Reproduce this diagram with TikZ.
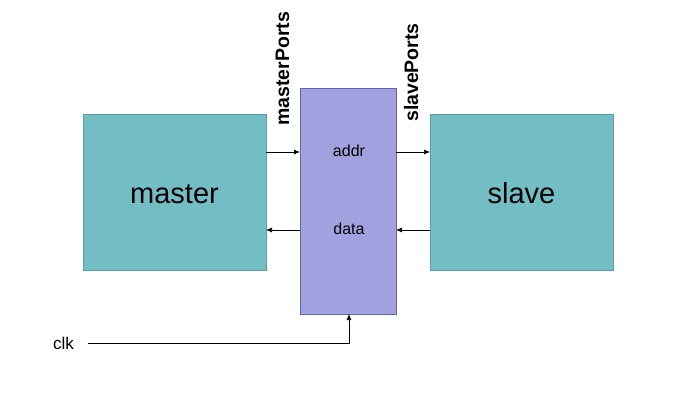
\documentclass[tikz,border=0pt]{standalone}
\usepackage{fontspec}
\setmainfont{Liberation Sans}
\usetikzlibrary{arrows.meta}
\definecolor{tealfill}{RGB}{114,190,196}
\definecolor{tealline}{RGB}{90,160,166}
\definecolor{busfill}{RGB}{161,161,224}
\definecolor{busline}{RGB}{100,100,170}
\begin{document}
\begin{tikzpicture}[x=1pt,y=-1pt,
  unit/.style={draw=tealline,fill=tealfill,line width=0.6pt,minimum width=183pt,minimum height=156pt,inner sep=0pt},
  unitlabel/.style={font=\fontsize{29}{33}\selectfont,anchor=base,inner sep=0pt},
  bus/.style={draw=busline,fill=busfill,line width=0.6pt,minimum width=96pt,minimum height=226pt,inner sep=0pt},
  sig/.style={-{Latex[length=6pt,width=5pt]},line width=0.7pt},
  small/.style={font=\fontsize{16}{18}\selectfont,inner sep=0pt,anchor=base},
  port/.style={font=\bfseries\fontsize{19.5}{22}\selectfont,rotate=90,anchor=base west,inner sep=0pt}]
\useasboundingbox (0,0) rectangle (679,404);
\node[unit] (master) at (174.5,192) {};
\node[unit] (slave) at (521.5,192) {};
\node[unitlabel] (masterl) at (174.5,203) {master};
\node[unitlabel] (slavel) at (521.5,203) {slave};
\node[bus] (bus) at (348,201) {};
\node[small] (addr) at (349,156) {addr};
\node[small] (data) at (349,234) {data};
\node[port] (mpl) at (289,126) {masterPorts};
\node[port] (spl) at (418,122) {slavePorts};
\node[small,anchor=base west,font=\fontsize{17}{19}\selectfont] (clk) at (53,349) {clk};
\coordinate (clkend) at (88,343);
\coordinate (mA) at (266,152);
\coordinate (bAl) at (300,152);
\coordinate (bAr) at (396,152);
\coordinate (sA) at (430,152);
\coordinate (mD) at (266,230);
\coordinate (bDl) at (300,230);
\coordinate (bDr) at (396,230);
\coordinate (sD) at (430,230);
\coordinate (bB) at (349,314);
\draw[sig] (mA) -- (bAl);
\draw[sig] (bAr) -- (sA);
\draw[sig] (bDl) -- (mD);
\draw[sig] (sD) -- (bDr);
\draw[sig] (clkend) -| (bB);
\end{tikzpicture}
\end{document}
